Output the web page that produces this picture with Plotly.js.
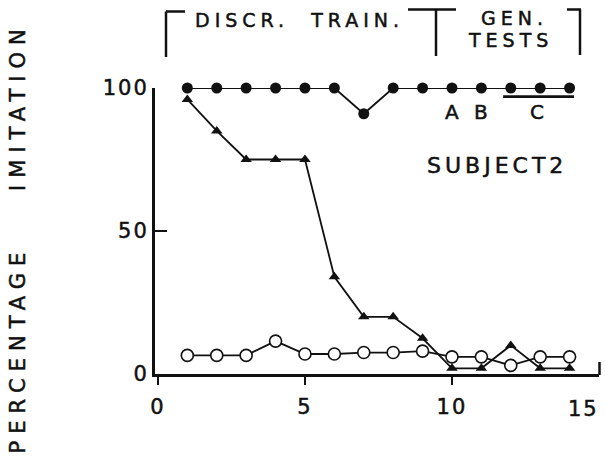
<!DOCTYPE html>
<html>
<head>
<meta charset="utf-8">
<script src="https://cdn.plot.ly/plotly-3.0.1.min.js"></script>
<style>html,body{margin:0;padding:0;background:#fff;}</style>
</head>
<body>
<div id="chart" style="width:605px;height:463px;"></div>
<script>
// Session numbers (discrimination training 1-9, generalization tests 10-14)
const sessions = [1, 2, 3, 4, 5, 6, 7, 8, 9, 10, 11, 12, 13, 14];
// Percentage imitation per session, one array per response class
const imitationFilled   = [100, 100, 100, 100, 100, 100, 91, 100, 100, 100, 100, 100, 100, 100];
const imitationTriangle = [96, 85, 75, 75, 75, 34, 20, 20, 12.5, 2, 2, 10, 2, 2];
const imitationOpen     = [6.5, 6.5, 6.5, 11.5, 7, 7, 7.5, 7.5, 8, 6, 6, 3, 6, 6];
// Axis ticks
const xTickVals = [0, 5, 10];
const xTickText = ['0', '5', '10'];
const xLastTick = 15;
const yTickVals = [0, 50, 100];
const yTickText = ['0', '50', '100'];
// Generalization test labels and the session each one sits over
const testLabels = ['A', 'B', 'C'];
const testLabelX = [10, 11, 12.9];
const testCSpan = [11.74, 14.15];

const W = 605, H = 463, L = 155, R = 6, T = 88, B = 89;
const PW = W - L - R, PH = H - T - B;
const px = p => (p - L) / PW;          // pixel x -> paper x
const py = p => (H - B - p) / PH;      // pixel y -> paper y

const ink = '#111111';
const FONT = 'DejaVu Sans, Verdana, sans-serif';
// letter-spaced, slightly heavier lettering
const spaced = (s, ls) => '<span style="letter-spacing:' + ls +
  'px;stroke:#111111;stroke-width:0.5px">' + s + '</span>';

const lineStyle = {color: ink, width: 1.8};

const traces = [
  {
    x: sessions, y: imitationTriangle, type: 'scatter', mode: 'lines+markers',
    line: lineStyle,
    marker: {symbol: 'triangle-up', size: 10, color: ink},
    cliponaxis: false, hoverinfo: 'skip'
  },
  {
    x: sessions, y: imitationFilled, type: 'scatter', mode: 'lines+markers',
    line: lineStyle,
    marker: {symbol: 'circle', size: 11, color: ink},
    cliponaxis: false, hoverinfo: 'skip'
  },
  {
    x: sessions, y: imitationOpen, type: 'scatter', mode: 'lines+markers',
    line: lineStyle,
    marker: {symbol: 'circle', size: 12, color: '#ffffff', line: {color: ink, width: 1.6}},
    cliponaxis: false, hoverinfo: 'skip'
  }
];

// bracket segments in pixel space, converted to paper coordinates
function seg(x0, y0, x1, y1, w) {
  return {type: 'line', xref: 'paper', yref: 'paper',
          x0: px(x0), y0: py(y0), x1: px(x1), y1: py(y1),
          line: {color: ink, width: w || 2.5}};
}

const shapes = [
  // left bracket of the training phase
  seg(166, 57, 166, 11.5), seg(166, 11.5, 185, 11.5),
  // junction between training and tests
  seg(408, 9.5, 456, 9.5), seg(436, 9.5, 436, 56),
  // right bracket of the test phase
  seg(567, 9.5, 581, 9.5), seg(580, 9.5, 580, 55),
  // end cap of the x axis
  seg(599.5, 375, 599.5, 362, 2.5),
  // bar over test C sessions
  {type: 'line', xref: 'x', yref: 'y', x0: testCSpan[0], x1: testCSpan[1], y0: 97, y1: 97,
   line: {color: ink, width: 2.6}}
];

const annFont = (size) => ({family: FONT, size: size, color: ink});

const annotations = [
  {xref: 'paper', yref: 'paper', x: px(193), y: py(20), xanchor: 'left', yanchor: 'middle',
   text: spaced('DISCR.\u00a0\u00a0TRAIN.', 5), showarrow: false, font: annFont(19)},
  {xref: 'paper', yref: 'paper', x: px(514), y: py(18), xanchor: 'center', yanchor: 'middle',
   text: spaced('GEN.', 5), showarrow: false, font: annFont(19)},
  {xref: 'paper', yref: 'paper', x: px(510), y: py(40), xanchor: 'center', yanchor: 'middle',
   text: spaced('TESTS', 5), showarrow: false, font: annFont(19)},
  {xref: 'paper', yref: 'paper', x: px(497), y: py(165), xanchor: 'center', yanchor: 'middle',
   text: spaced('SUBJECT2', 4), showarrow: false, font: annFont(22)},
  {xref: 'x', yref: 'paper', x: xLastTick, xshift: -16, y: py(409), xanchor: 'center', yanchor: 'middle',
   text: spaced(String(xLastTick), 2), showarrow: false, font: annFont(21)}
];
testLabels.forEach((t, i) => {
  annotations.push({xref: 'x', yref: 'y', x: testLabelX[i], y: 91.6, xanchor: 'center', yanchor: 'middle',
    text: spaced(t, 0), showarrow: false, font: annFont(20)});
});

const layout = {
  width: W, height: H,
  margin: {l: L, r: R, t: T, b: B, pad: 0},
  paper_bgcolor: '#ffffff', plot_bgcolor: '#ffffff',
  showlegend: false,
  font: {family: FONT, color: ink},
  xaxis: {
    range: [-0.1, 15], showgrid: false, zeroline: false,
    showline: true, linecolor: ink, linewidth: 3,
    ticks: 'outside', ticklen: 8, tickwidth: 2.5, tickcolor: ink,
    tickmode: 'array', tickvals: xTickVals,
    ticktext: xTickText.map(t => spaced(t, 2)),
    tickfont: {family: FONT, size: 21, color: ink},
    ticklabelstandoff: 4
  },
  yaxis: {
    range: [0, 100], showgrid: false, zeroline: false,
    showline: true, linecolor: ink, linewidth: 3,
    ticks: 'inside', ticklen: 12, tickwidth: 2.5, tickcolor: ink,
    tickmode: 'array', tickvals: yTickVals,
    ticktext: yTickText.map(t => spaced(t, 2)),
    tickfont: {family: FONT, size: 21, color: ink},
    ticklabelstandoff: -1,
    title: {
      text: spaced('PERCENTAGE\u00a0\u00a0\u00a0\u00a0IMITATION\u00a0', 7),
      font: {family: FONT, size: 21, color: ink},
      standoff: 72
    }
  },
  shapes: shapes,
  annotations: annotations
};

Plotly.newPlot('chart', traces, layout, {staticPlot: true, displayModeBar: false});
</script>
</body>
</html>
